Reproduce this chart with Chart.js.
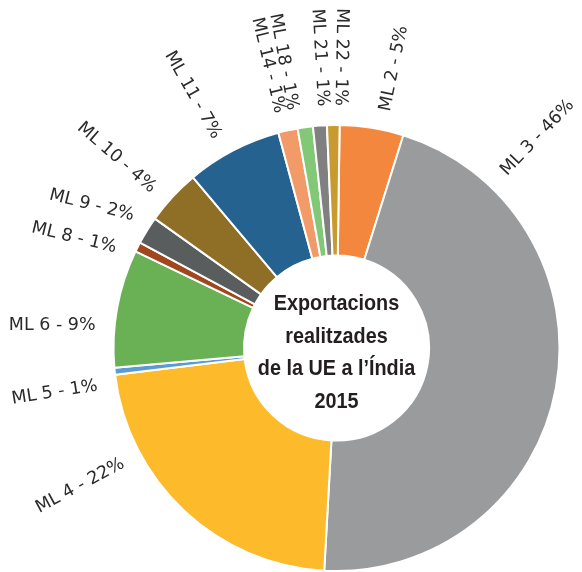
<!DOCTYPE html>
<html lang="ca">
<head>
<meta charset="utf-8">
<title>Exportacions realitzades de la UE a l'Índia 2015</title>
<script src="https://cdn.jsdelivr.net/npm/chart.js@4.4.1/dist/chart.umd.min.js"></script>
<style>
    html, body { margin: 0; padding: 0; background: #ffffff; }
    #wrap { width: 582px; height: 572px; }
</style>
</head>
<body>
<div id="wrap"><canvas id="doughnutChart" width="582" height="572"></canvas></div>
<script>
// --- Data (llegit del gràfic original) ---
const categories = ['ML 2', 'ML 3', 'ML 4', 'ML 5', 'ML 6', 'ML 8', 'ML 9', 'ML 10', 'ML 11', 'ML 14', 'ML 18', 'ML 21', 'ML 22'];
const shares = [4.6, 45.8, 22.1, 0.5, 8.5, 0.7, 2.0, 4.0, 6.9, 1.4, 1.1, 1.0, 0.9];
const pctLabels = ['5%', '46%', '22%', '1%', '9%', '1%', '2%', '4%', '7%', '1%', '1%', '1%', '1%'];
const centerTitle = ['Exportacions', 'realitzades', 'de la UE a l\u2019Índia', '2015'];

// Slice colours
const sliceColors = [
    '#F3873D', '#999B9D', '#FDBB2B', '#5A9BD4', '#6AB156', '#A0471D', '#5A5D5E',
    '#8F6E25', '#26628F', '#F39A69', '#83C877', '#808080', '#C99A2F'
];

// label placement tweaks: angular nudge (deg) from slice middle, and fixed tilt (deg, null = radial)
const labelNudge = [2.5, -56.6, 18.6, -3, -5, -2.5, 1.3, -1.8, -2, -1, -2.4, 1, 1.7];
const labelTilt = [null, null, null, null, 0, 13.5, 14, null, null, null, null, null, null];

const LABEL_FONT = '17.5px "DejaVu Sans", sans-serif';
const TITLE_FONT = 'bold 22px "Liberation Sans", Arial, sans-serif';

// ================= PLUGINS =================

// radial labels "ML x - y%" outside the ring
const outsideLabels = {
    id: 'outsideLabels',
    afterDatasetsDraw(chart) {
        const ctx = chart.ctx;
        const arcs = chart.getDatasetMeta(0).data;
        ctx.save();
        ctx.font = LABEL_FONT;
        ctx.fillStyle = '#2b2b2b';
        ctx.textBaseline = 'middle';
        arcs.forEach((arc, i) => {
            const mid = (arc.startAngle + arc.endAngle) / 2;
            const ang = mid + labelNudge[i] * Math.PI / 180;
            const rightSide = Math.cos(mid) >= 0;
            const r = arc.outerRadius + 19;
            const px = arc.x + r * Math.cos(ang);
            const py = arc.y + r * Math.sin(ang);
            let rot = rightSide ? ang : ang + Math.PI;
            if (labelTilt[i] !== null) rot = labelTilt[i] * Math.PI / 180;

            ctx.save();
            ctx.translate(px, py);
            ctx.rotate(rot);
            ctx.textAlign = rightSide ? 'left' : 'right';
            ctx.fillText(categories[i] + ' - ' + pctLabels[i], 0, 0);
            ctx.restore();
        });
        ctx.restore();
    }
};

// title in the hole (squeezed a bit to look condensed)
const centerText = {
    id: 'centerText',
    afterDraw(chart) {
        const ctx = chart.ctx;
        const arc = chart.getDatasetMeta(0).data[0];
        if (!arc) return;
        const lineH = 32.5;
        const top = arc.y - lineH * (centerTitle.length - 1) / 2 + 5;
        ctx.save();
        ctx.font = TITLE_FONT;
        ctx.fillStyle = '#231F20';
        ctx.textAlign = 'center';
        ctx.textBaseline = 'middle';
        centerTitle.forEach((line, i) => {
            ctx.save();
            ctx.translate(arc.x, top + i * lineH);
            ctx.scale(0.9, 1);
            ctx.fillText(line, 0, 0);
            ctx.restore();
        });
        ctx.restore();
    }
};

// ================= CHART =================

const ctxD = document.getElementById('doughnutChart').getContext('2d');
new Chart(ctxD, {
    type: 'doughnut',
    data: {
        labels: categories,
        datasets: [{
            data: shares,
            backgroundColor: sliceColors,
            borderColor: '#ffffff',
            borderWidth: 2
        }]
    },
    options: {
        responsive: false,
        animation: false,
        cutout: '41.5%',
        rotation: 0.8,
        layout: { padding: { left: 112, right: 21, top: 124, bottom: 0 } },
        plugins: {
            legend: { display: false },
            tooltip: { enabled: false }
        }
    },
    plugins: [outsideLabels, centerText]
});
</script>
</body>
</html>
